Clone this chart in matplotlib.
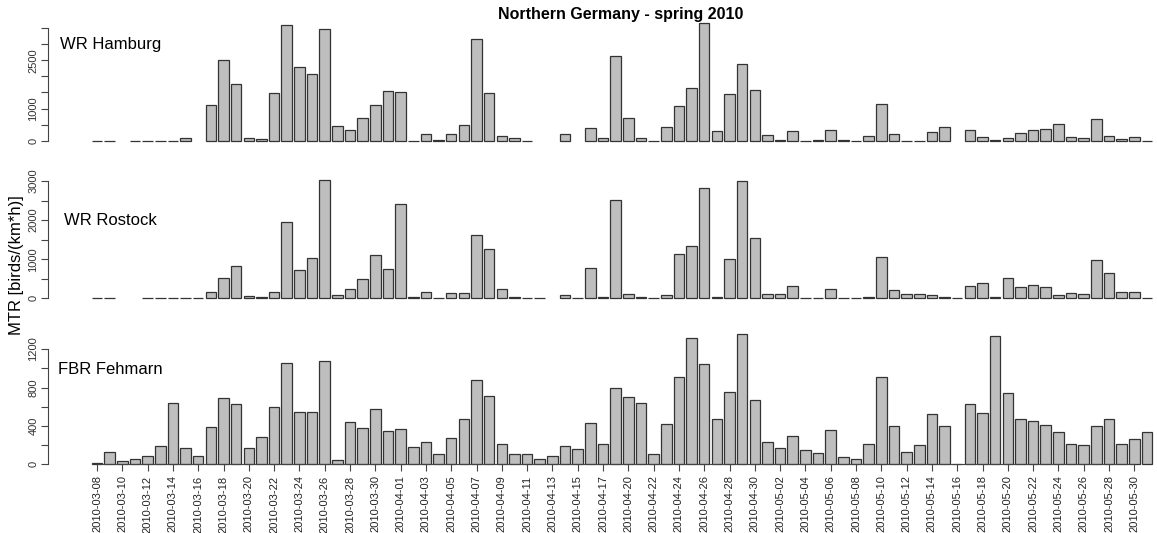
import numpy as np
import pandas as pd
import matplotlib
matplotlib.use("Agg")
import matplotlib.pyplot as plt

plt.rcParams["font.family"] = ["Liberation Sans", "DejaVu Sans"]

nan = np.nan

# one day (04-19) has no data row at all
dates = [d.strftime("%Y-%m-%d") for d in pd.date_range("2010-03-08", "2010-05-31")
         if d.strftime("%m-%d") != "04-19"]

hamburg = [5, 5, nan, 5, 5, 5, 5, 70, nan, 1109, 2497, 1751, 93, 41, 1492, 3585,
           2280, 2073, 3471, 446, 321, 705, 1098, 1544,
           1513, 5, 197, 20, 207, 477, 3161, 1472, 145, 83, 5, nan, nan, 207, nan,
           383, 93, 2622, 715, 73, 5, 425, 1067, 1627, 3668, 290, 1440, 2394, 1575,
           166, 10, 290, 5, 10, 342, 10, 5, 135, 1130, 207, 3, 3, 269, 415, nan,
           342, 104, 10, 73, 228, 342, 352, 508, 104, 93, 674, 155, 41, 104, 5]

rostock = [5, 15, nan, nan, 15, 5, 15, 5, 5, 170, 520, 818, 60, 43, 170, 1944,
           725, 1040, 3018, 85, 239, 486, 1100, 750,
           2404, 34, 153, 5, 145, 145, 1620, 1253, 247, 26, 5, 5, nan, 77, 5,
           767, 43, 2523, 102, 43, 5, 77, 1142, 1330, 2813, 43, 1006, 3001, 1535,
           102, 102, 307, 5, 5, 230, 3, 3, 43, 1049, 205, 102, 102, 85, 26, 3,
           307, 400, 26, 511, 281, 332, 281, 85, 128, 102, 989, 656, 170, 153, 3]

fehmarn = [17, 133, 38, 58, 82, 188, 639, 171, 82, 390, 694, 626, 174, 287, 595,
           1053, 544, 550, 1077, 41, 441, 383, 571, 349,
           369, 185, 236, 106, 277, 472, 882, 708, 215, 103, 103, 51, 82, 191, 164,
           431, 212, 790, 701, 639, 103, 424, 909, 1313, 1046, 472, 752, 1357, 674,
           232, 171, 294, 144, 113, 362, 72, 51, 215, 909, 397, 123, 205, 523, 397,
           3, 626, 533, 1333, 745, 468, 448, 410, 338, 215, 205, 397, 468, 212, 267, 338]

W, H = 1157, 533
fig = plt.figure(figsize=(W / 100, H / 100), dpi=100)

# name, values, axes top px, axes bottom px, zero px, px per unit, ticks, shown labels, label xy px
panels = [
    ("WR Hamburg", hamburg, 20, 150, 140.7, 0.03216, np.arange(0, 3501, 500), [0, 1000, 2500], (60, 45)),
    ("WR Rostock", rostock, 170, 305, 298.3, 0.0391, np.arange(0, 3001, 500), [0, 1000, 2000, 3000], (64, 221)),
    ("FBR Fehmarn", fehmarn, 325, 470, 464.3, 0.096, np.arange(0, 1201, 200), [0, 400, 800, 1200], (58, 369)),
]

x = np.arange(len(dates))
left_px, bar0_px, pitch_px = 48, 97, 12.65

for k, (name, vals, top, bot, zero, ppu, ticks, shown, lab) in enumerate(panels):
    ax = fig.add_axes([left_px / W, 1 - bot / H, (W - left_px) / W, (bot - top) / H])
    ax.bar(x, vals, width=0.833, color="#bebebe", edgecolor="#333333", linewidth=0.9)
    ax.set_xlim((left_px - bar0_px) / pitch_px, (W - bar0_px) / pitch_px)
    ax.set_ylim((zero - bot) / ppu, (zero - top) / ppu)
    ax.patch.set_visible(False)

    for s in ["top", "right"]:
        ax.spines[s].set_visible(False)
    ax.spines["left"].set_bounds(0, ticks[-1])
    ax.spines["left"].set_color("#444444")
    ax.set_yticks(ticks, [str(t) if t in shown else "" for t in ticks])
    ax.tick_params(axis="y", length=5, width=0.8, color="#444444", labelsize=8,
                   labelcolor="#333333", pad=2)
    plt.setp(ax.get_yticklabels(), rotation=90, va="center")

    if k < 2:
        ax.spines["bottom"].set_visible(False)
        ax.set_xticks([])
    else:
        ax.spines["bottom"].set_position(("data", 0))
        ax.spines["bottom"].set_bounds(0, 82)
        ax.spines["bottom"].set_color("#444444")
        ax.set_xticks(x[::2], dates[::2], rotation=90)
        ax.tick_params(axis="x", length=5, width=0.8, color="#444444", labelsize=8,
                       labelcolor="#222222", pad=3)

    fig.text(lab[0] / W, 1 - lab[1] / H, name, fontsize=12, ha="left", va="center")

fig.text(621 / W, 1 - 14 / H, "Northern Germany - spring 2010", fontsize=11.5,
         fontweight="bold", ha="center", va="center")
fig.text(17 / W, 1 - 265 / H, "MTR [birds/(km*h)]", fontsize=12, rotation=90,
         ha="center", va="center")

fig.savefig("out.png", dpi=100)
